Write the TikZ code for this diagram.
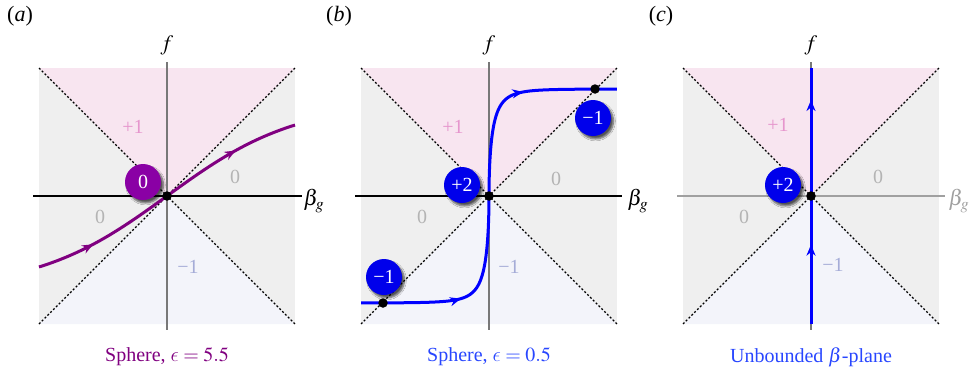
\documentclass[tikz,border=0pt]{standalone}
\usepackage{mathptmx}
\usepackage{fontspec}
\setmainfont{Liberation Serif}
\DeclareSymbolFont{cmlett}{OML}{cmm}{m}{it}
\DeclareMathSymbol{\lunateeps}{\mathord}{cmlett}{"0F}
\usetikzlibrary{arrows.meta,decorations.markings,shadows.blur}
\definecolor{pinkbg}{RGB}{248,229,240}
\definecolor{bluebg}{RGB}{243,244,250}
\definecolor{graybg}{RGB}{239,239,239}
\definecolor{pinklab}{RGB}{230,150,205}
\definecolor{graylab}{RGB}{180,180,180}
\definecolor{bluelab}{RGB}{165,172,215}
\definecolor{curvepurple}{RGB}{128,0,128}
\definecolor{discpurple}{RGB}{138,0,165}
\definecolor{discblue}{RGB}{0,0,235}
\definecolor{capblue}{RGB}{40,70,255}
\definecolor{axgraycol}{RGB}{120,120,120}
\definecolor{axlightcol}{RGB}{160,160,160}
\tikzset{
  lab/.style={font=\fontsize{20}{24}\selectfont},
  axlab/.style={font=\fontsize{22}{26}\selectfont},
  biglab/.style={font=\fontsize{22}{26}\selectfont},
  disc/.style={circle, minimum size=36pt, inner sep=0pt, text=white,
    font=\fontsize{20}{24}\selectfont,
    blur shadow={shadow xshift=2.5pt, shadow yshift=-3pt, shadow blur steps=6, shadow opacity=65}},
  dotnode/.style={circle, fill=black, minimum size=9.5pt, inner sep=0pt},
  diag/.style={line width=1.3pt, dash pattern=on 2pt off 2pt},
  mk/.style n args={2}{postaction={decorate}, decoration={markings,
    mark=at position #1 with {\arrow{Stealth[length=11pt,width=9pt]}},
    mark=at position #2 with {\arrow{Stealth[length=11pt,width=9pt]}}}},
  panelbg/.pic={
    \fill[graybg] (-128,-128) rectangle (128,128);
    \fill[pinkbg] (-128,-128) -- (128,-128) -- (0,0) -- cycle;
    \fill[bluebg] (-128,128) -- (128,128) -- (0,0) -- cycle;
    \draw[diag] (-128,-128) -- (128,128);
    \draw[diag] (-128,128) -- (128,-128);
  }
}
\begin{document}
\begin{tikzpicture}[x=1pt,y=-1pt]
\useasboundingbox (0,0) rectangle (974,372);

% ---------- panel (a)
\begin{scope}[shift={(167,196)}]
  \pic {panelbg};
  \draw[axgraycol, line width=1.5pt] (0,-134) -- (0,134);
  \draw[black, line width=2.5pt] (-134,0) -- (135,0);
  \node[lab, pinklab] (ap1) at (-34,-69) {+1};
  \node[lab, graylab] (a0r) at (68,-19) {0};
  \node[lab, graylab] (a0l) at (-67,21) {0};
  \node[lab, bluelab] (am1) at (21,71) {−1};
  \draw[curvepurple, line width=3pt, mk={0.2}{0.78}]
    plot[domain=-128:128, samples=120] (\x, {-94*tanh(\x/130)});
  \node[dotnode] (ao) at (0,0) {};
  \node[disc, fill=discpurple] (adisc) at (-24,-14) {0};
  \node[axlab] (af) at (0,-151) {$f$};
  \node[axlab] (ab) at (147,5) {$\beta_g$};
  \node[lab, curvepurple] (acap) at (0,161) {Sphere, $\lunateeps = 5.5$};
\end{scope}
\node[biglab] (alab) at (20,16) {(\textit{a})};

% ---------- panel (b)
\begin{scope}[shift={(489,196)}]
  \pic {panelbg};
  \draw[axgraycol, line width=2.5pt] (0,-134) -- (0,134);
  \draw[black, line width=1.5pt] (-134,0) -- (133,0);
  \node[lab, pinklab] (bp1) at (-36,-69) {+1};
  \node[lab, graylab] (b0r) at (67,-17) {0};
  \node[lab, graylab] (b0l) at (-67,21) {0};
  \node[lab, bluelab] (bm1) at (20,71) {−1};
  \draw[blue, line width=3pt, mk={0.235}{0.78}]
    plot[domain=-1:1, samples=241] ({128*\x*abs(\x)}, {-107*tanh(4.13*\x)});
  \node[dotnode] (bo) at (0,0) {};
  \node[dotnode] (bur) at (106,-107) {};
  \node[dotnode] (bll) at (-106,107) {};
  \node[disc, fill=discblue] (bdisc) at (-27,-11) {+2};
  \node[disc, fill=discblue] (bdur) at (104,-78) {−1};
  \node[disc, fill=discblue] (bdll) at (-105,81) {−1};
  \node[axlab] (bf) at (0,-151) {$f$};
  \node[axlab] (bb) at (149,5) {$\beta_g$};
  \node[lab, capblue] (bcap) at (0,161) {Sphere, $\lunateeps = 0.5$};
\end{scope}
\node[biglab] (blab) at (339,16) {(\textit{b})};

% ---------- panel (c)
\begin{scope}[shift={(811,196)}]
  \pic {panelbg};
  \draw[axgraycol, line width=1.5pt] (0,-134) -- (0,134);
  \draw[axlightcol, line width=1.2pt] (-134,0) -- (134,0);
  \node[lab, pinklab] (cp1) at (-33,-71) {+1};
  \node[lab, graylab] (c0r) at (67,-19) {0};
  \node[lab, graylab] (c0l) at (-67,21) {0};
  \node[lab, bluelab] (cm1) at (22,69) {−1};
  \coordinate (cbot) at (0,128);
  \coordinate (ctop) at (0,-128);
  \draw[blue, line width=3pt, mk={0.31}{0.875}] (cbot) -- (ctop);
  \node[dotnode] (co) at (0,0) {};
  \node[disc, fill=discblue] (cdisc) at (-28,-11) {+2};
  \node[axlab] (cf) at (0,-151) {$f$};
  \node[axlab, axlightcol] (cb) at (148,5) {$\beta_g$};
  \node[lab, capblue] (ccap) at (0,161) {Unbounded $\beta$-plane};
\end{scope}
\node[biglab] (clab) at (661,16) {(\textit{c})};
\end{tikzpicture}
\end{document}
